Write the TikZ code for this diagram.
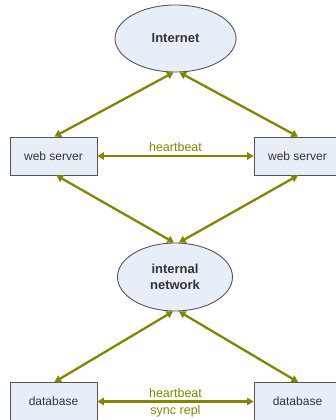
\documentclass[tikz,border=0pt]{standalone}
\usepackage{fontspec}
\setmainfont{Liberation Sans}
\usetikzlibrary{arrows.meta,shapes.geometric}
\definecolor{boxfill}{HTML}{E8EEF8}
\definecolor{boxline}{HTML}{555555}
\definecolor{olivelink}{HTML}{858500}
\definecolor{labeltext}{HTML}{333333}
\tikzset{
  server/.style={draw=boxline, fill=boxfill, line width=0.9pt, minimum width=87pt,
    minimum height=38pt, inner sep=0pt, text=labeltext, font=\fontsize{12}{14}\selectfont},
  cloud/.style={draw=boxline, fill=boxfill, line width=0.9pt, ellipse, inner sep=0pt,
    text=labeltext, font=\fontsize{13}{16}\selectfont\bfseries, align=center},
  link/.style={draw=olivelink, line width=2.3pt,
    {Triangle[length=6.5pt,width=7.5pt]}-{Triangle[length=6.5pt,width=7.5pt]}},
  linklabel/.style={text=olivelink, font=\fontsize{12.5}{14}\selectfont, inner sep=1pt}
}
\begin{document}
\begin{tikzpicture}[x=1pt, y=-1pt]
  \useasboundingbox (0,0) rectangle (336,420);
  \clip (0,0) rectangle (336,420);
  \fill[white] (0,0) rectangle (336,420);

  % clouds
  \node[cloud, minimum width=121pt, minimum height=67pt] (inet) at (175.5,38.5) {Internet};
  \node[cloud, minimum width=115pt, minimum height=68pt] (lan) at (175,277) {internal\\network};

  % servers
  \node[server] (wsl) at (53.5,156) {web server};
  \node[server] (wsr) at (297.5,156) {web server};
  \node[server] (dbl) at (53.5,401.5) {database};
  \node[server] (dbr) at (297.5,401.5) {database};

  % links
  \draw[link] ([xshift=-2pt]inet.south) -- ([xshift=1pt]wsl.north);
  \draw[link] ([xshift=4pt]inet.south) -- ([xshift=0.5pt]wsr.north);
  \draw[link] ([xshift=3pt]wsl.south) -- ([xshift=-1pt]lan.north);
  \draw[link] ([xshift=0.5pt]wsr.south) -- ([xshift=4pt]lan.north);
  \draw[link] ([xshift=-2pt]lan.south) -- ([xshift=1pt]dbl.north);
  \draw[link] ([xshift=4pt]lan.south) -- ([xshift=0.5pt]dbr.north);

  \draw[link] (wsl.east) -- (wsr.west)
    node[linklabel, midway, above=2pt] (hb1) {heartbeat};
  \draw[link] (dbl.east) -- (dbr.west)
    node[linklabel, midway, above=2pt] (hb2) {heartbeat}
    node[linklabel, midway, below=2pt] (sr) {sync repl};
\end{tikzpicture}
\end{document}
